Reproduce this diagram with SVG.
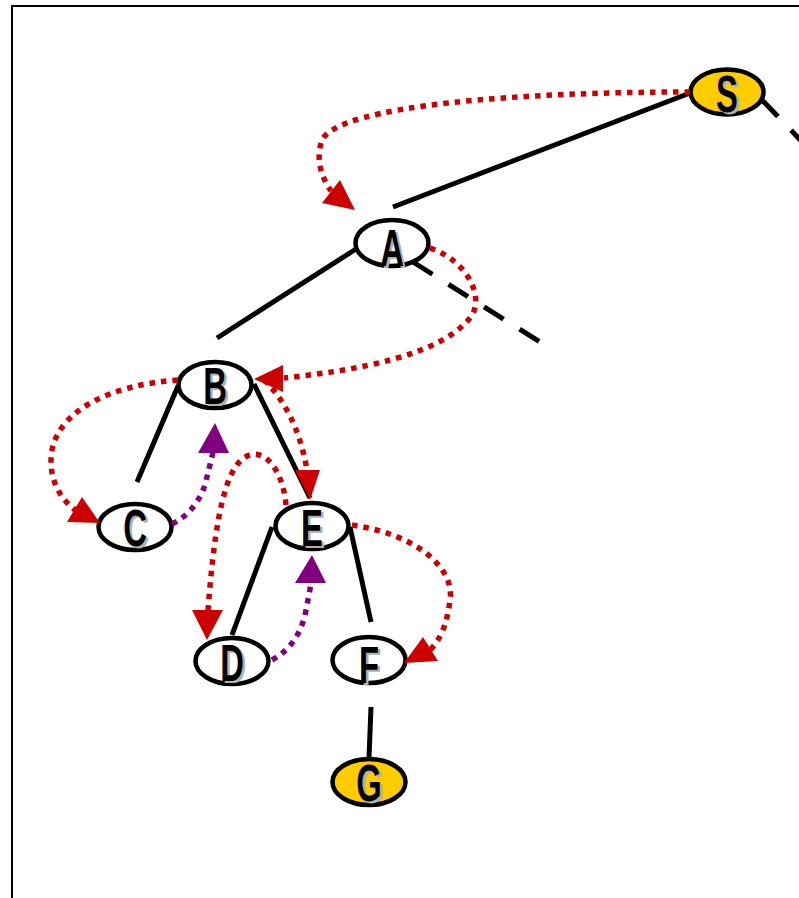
<svg xmlns="http://www.w3.org/2000/svg" width="799" height="898" viewBox="0 0 799 898">
<style>
.node{fill:#fff;stroke:#000;stroke-width:4.5}
.goal{fill:#FFCC00}
.lbl{font-family:"Liberation Sans",Arial,sans-serif;font-weight:bold;font-size:52px;text-anchor:middle}
.sh{fill:#b0b0b0}
.tx{fill:#000}
.edge{stroke:#000;stroke-width:5;fill:none}
.dash{stroke-dasharray:23 19}
.red{stroke:#CC0000;stroke-width:5.5;fill:none;stroke-dasharray:5.5 6}
.pur{stroke:#800080;stroke-width:5.5;fill:none;stroke-dasharray:5.5 6}
.rh{fill:#CC0000}
.ph{fill:#800080}
</style>
<path d="M12,898 V6 H799" fill="none" stroke="#000" stroke-width="2"/>
<g id="nodes">
<g id="S"><ellipse class="node goal" cx="727" cy="92" rx="36.5" ry="22.5"/><text class="lbl sh" transform="translate(729.5,113.5) scale(0.63,1)">S</text><text class="lbl tx" transform="translate(727,112) scale(0.63,1)">S</text></g>
<g id="A"><ellipse class="node" cx="392" cy="243" rx="36.5" ry="23"/><text class="lbl sh" transform="translate(394.5,267.5) scale(0.63,1)">A</text><text class="lbl tx" transform="translate(392,266) scale(0.63,1)">A</text></g>
<g id="B"><ellipse class="node" cx="215" cy="385" rx="36.5" ry="23"/><text class="lbl sh" transform="translate(217.5,405.5) scale(0.63,1)">B</text><text class="lbl tx" transform="translate(215,404) scale(0.63,1)">B</text></g>
<g id="C"><ellipse class="node" cx="135" cy="527" rx="36.5" ry="23"/><text class="lbl sh" transform="translate(137.5,547.5) scale(0.63,1)">C</text><text class="lbl tx" transform="translate(135,546) scale(0.63,1)">C</text></g>
<g id="E"><ellipse class="node" cx="312" cy="526" rx="36.5" ry="23"/><text class="lbl sh" transform="translate(314.5,547.5) scale(0.63,1)">E</text><text class="lbl tx" transform="translate(312,546) scale(0.63,1)">E</text></g>
<g id="D"><ellipse class="node" cx="232" cy="661" rx="36.5" ry="23"/><text class="lbl sh" transform="translate(234.5,682.5) scale(0.63,1)">D</text><text class="lbl tx" transform="translate(232,681) scale(0.63,1)">D</text></g>
<g id="F"><ellipse class="node" cx="369" cy="660" rx="36.5" ry="23"/><text class="lbl sh" transform="translate(371.5,684.5) scale(0.63,1)">F</text><text class="lbl tx" transform="translate(369,683) scale(0.63,1)">F</text></g>
<g id="G"><ellipse class="node goal" cx="369" cy="782" rx="36.5" ry="23"/><text class="lbl sh" transform="translate(371.5,802.5) scale(0.63,1)">G</text><text class="lbl tx" transform="translate(369,801) scale(0.63,1)">G</text></g>
</g>
<g id="connectors">
<line class="edge" x1="690" y1="93" x2="393" y2="207"/>
<line class="edge dash" x1="762" y1="100" x2="810" y2="150"/>
<line class="edge" x1="356" y1="249" x2="217" y2="338"/>
<line class="edge dash" x1="413" y1="262" x2="540" y2="342"/>
<line class="edge" x1="178" y1="386" x2="137" y2="482"/>
<line class="edge" x1="254" y1="384" x2="310" y2="498"/>
<line class="edge" x1="272" y1="527" x2="232" y2="635"/>
<line class="edge" x1="350" y1="527" x2="371" y2="622"/>
<line class="edge" x1="371" y1="707" x2="369" y2="758"/>

<path class="red" d="M690,92 C520,92 340,105 322,140 C315,160 322,178 331,191"/>
<polygon class="rh" points="355,210 340,180 322,203"/>
<path class="red" d="M430,248 C470,262 485,300 470,318 C440,355 360,370 284,378"/>
<polygon class="rh" points="254,379 283,365 283,392"/>
<path class="red" d="M178,380 C110,385 60,410 52,450 C47,480 62,500 75,510"/>
<polygon class="rh" points="100,523 82,497 67,522"/>
<path class="red" d="M264,380 C285,400 300,430 307,470"/>
<polygon class="rh" points="295,470 320,470 310,500"/>
<path class="red" d="M286,505 C283,470 265,450 250,455 C225,462 215,520 208,610"/>
<polygon class="rh" points="192,610 223,610 207,640"/>
<path class="red" d="M352,525 C420,535 455,570 450,600 C447,625 440,640 430,650"/>
<polygon class="rh" points="404,663 423,637 438,661"/>
<path class="pur" d="M172,524 C190,515 200,500 205,485 C208,472 211,462 213,452"/>
<polygon class="ph" points="198,453 229,453 215,423"/>
<path class="pur" d="M272,660 C290,650 300,635 305,615 C308,600 310,590 311,583"/>
<polygon class="ph" points="295,583 326,583 312,555"/>
</g>
</svg>
